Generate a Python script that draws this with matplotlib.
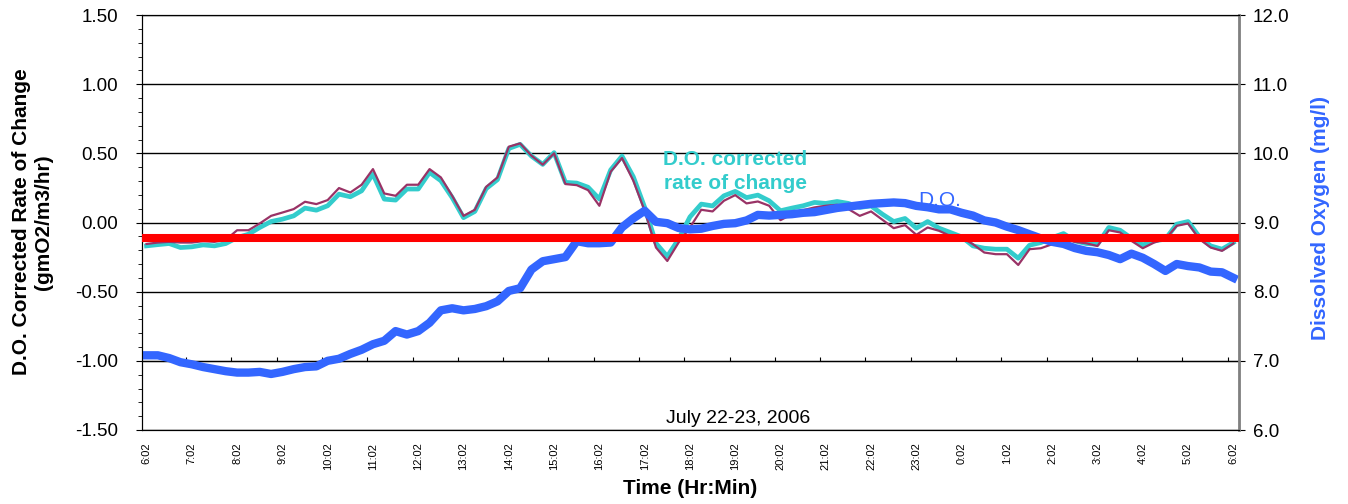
import numpy as np
import matplotlib
matplotlib.use('Agg')
import matplotlib.pyplot as plt
from matplotlib.ticker import MultipleLocator

plt.rcParams['font.family'] = ['Liberation Sans', 'DejaVu Sans']

# 15 minute readings, 6:02 on July 22 to 6:02 on July 23
rate = [-0.155, -0.145, -0.14, -0.145, -0.145, -0.135, -0.14, -0.125, -0.056, -0.056,
        -0.007, 0.048, 0.072, 0.097, 0.150, 0.133, 0.162, 0.249, 0.217, 0.273,
        0.386, 0.210, 0.193, 0.273, 0.273, 0.386, 0.326, 0.193, 0.048, 0.092,
        0.258, 0.326, 0.548, 0.572, 0.483, 0.418, 0.500, 0.278, 0.270, 0.234,
        0.121, 0.367, 0.466, 0.302, 0.085, -0.181, -0.278, -0.145, -0.036, 0.092,
        0.080, 0.157, 0.198, 0.138, 0.152, 0.121, 0.017, 0.060, 0.089, 0.109,
        0.121, 0.128, 0.097, 0.048, 0.080, 0.020, -0.041, -0.019, -0.089, -0.036,
        -0.060, -0.097, -0.109, -0.157, -0.217, -0.229, -0.229, -0.307, -0.193, -0.186,
        -0.157, -0.120, -0.140, -0.150, -0.170, -0.056, -0.072, -0.133, -0.186, -0.145,
        -0.120, -0.024, -0.007, -0.120, -0.181, -0.205, -0.152]

corrected = [-0.169, -0.160, -0.152, -0.181, -0.176, -0.162, -0.169, -0.152, -0.109, -0.085,
             -0.036, 0.007, 0.024, 0.048, 0.104, 0.089, 0.121, 0.205, 0.186, 0.229,
             0.350, 0.169, 0.162, 0.242, 0.242, 0.362, 0.302, 0.180, 0.035, 0.080,
             0.245, 0.310, 0.535, 0.565, 0.480, 0.420, 0.505, 0.290, 0.285, 0.255,
             0.170, 0.380, 0.480, 0.330, 0.110, -0.150, -0.245, -0.120, 0.040, 0.133,
             0.120, 0.193, 0.225, 0.180, 0.198, 0.157, 0.085, 0.104, 0.121, 0.145,
             0.138, 0.152, 0.138, 0.109, 0.120, 0.060, 0.007, 0.029, -0.041, 0.007,
             -0.041, -0.072, -0.104, -0.169, -0.186, -0.193, -0.193, -0.258, -0.164, -0.145,
             -0.109, -0.080, -0.133, -0.152, -0.157, -0.036, -0.056, -0.114, -0.162, -0.133,
             -0.120, -0.012, 0.007, -0.104, -0.169, -0.193, -0.145]

do_mgl = [7.08, 7.08, 7.04, 6.98, 6.95, 6.91, 6.88, 6.85, 6.83, 6.83,
          6.84, 6.81, 6.84, 6.88, 6.91, 6.92, 7.00, 7.03, 7.10, 7.16,
          7.24, 7.29, 7.43, 7.38, 7.43, 7.55, 7.73, 7.76, 7.73, 7.75,
          7.79, 7.86, 8.01, 8.05, 8.32, 8.44, 8.47, 8.50, 8.73, 8.70,
          8.70, 8.71, 8.93, 9.06, 9.17, 9.01, 8.99, 8.92, 8.90, 8.91,
          8.95, 8.98, 8.99, 9.03, 9.11, 9.10, 9.11, 9.12, 9.14, 9.15,
          9.18, 9.21, 9.23, 9.25, 9.27, 9.28, 9.29, 9.28, 9.24, 9.22,
          9.19, 9.19, 9.14, 9.10, 9.03, 9.00, 8.94, 8.89, 8.83, 8.77,
          8.72, 8.69, 8.63, 8.59, 8.57, 8.53, 8.47, 8.55, 8.49, 8.40,
          8.30, 8.40, 8.37, 8.35, 8.29, 8.28, 8.20]

red_level = 8.78  # constant reference line (right axis units)

hour_labels = ['6:02', '7:02', '8:02', '9:02', '10:02', '11:02', '12:02', '13:02',
               '14:02', '15:02', '16:02', '17:02', '18:02', '19:02', '20:02', '21:02',
               '22:02', '23:02', '0:02', '1:02', '2:02', '3:02', '4:02', '5:02', '6:02']

x = np.arange(len(rate))

fig = plt.figure(figsize=(13.48, 5.04), dpi=100)
ax = fig.add_axes([142/1348, 1-430/504, 1097/1348, 415/504])
ax2 = ax.twinx()

# rate of change lines (left axis)
ax.plot(x, corrected, color='#33CCCC', lw=3.4, zorder=2)
ax.plot(x, rate, color='#993366', lw=1.6, zorder=3)

ax.set_xlim(-0.4, 96.5)
ax.set_ylim(-1.5, 1.5)
ax.yaxis.set_major_locator(MultipleLocator(0.5))
ax.yaxis.set_minor_locator(MultipleLocator(0.1))
ax.set_yticklabels([f'{v:.2f}' for v in ax.get_yticks()])
ax.yaxis.grid(True, which='major', color='black', lw=1)
ax.set_axisbelow(True)
ax.tick_params(axis='y', which='major', direction='out', length=4, pad=13, labelsize=13.5)
ax.tick_params(axis='y', which='minor', direction='out', length=3)
ax.set_xticks(x[::4])
ax.set_xticklabels(hour_labels, rotation=90, fontsize=8)
ax.tick_params(axis='x', length=0, pad=9)

# secondary category axis crossing the right axis at 7.0 (= -1.00 on the left)
sec = ax.secondary_xaxis(1/6)
sec.set_xticks(np.arange(3.5, 96, 4))
sec.tick_params(axis='x', direction='in', length=3, labelbottom=False, labeltop=False)
sec.spines['bottom'].set_color('black')

# dissolved oxygen (right axis)
ax2.plot(x, do_mgl, color='#3366FF', lw=6, zorder=2)
ax2.axhline(red_level, color='#FF0000', lw=5.8, zorder=3)
ax2.set_ylim(6, 12)
ax2.yaxis.set_major_locator(MultipleLocator(1))
ax2.set_yticklabels([f'{v:.1f}' for v in ax2.get_yticks()])
ax2.tick_params(axis='y', direction='out', length=4, pad=6, labelsize=13.5)

for s in ['left', 'top', 'bottom']:
    ax.spines[s].set_color('black')
ax2.spines['right'].set_color('#808080')
ax2.spines['right'].set_linewidth(2)

ax.text(52, 0.37, 'D.O. corrected\nrate of change', color='#33CCCC', fontsize=15,
        fontweight='bold', ha='center', va='center', linespacing=1.3, zorder=4)
ax.text(68.2, 0.16, 'D.O.', color='#3366FF', fontsize=15, ha='left', va='center', zorder=1)
ax.text(52.3, -1.42, 'July 22-23, 2006', color='black', fontsize=14, ha='center', va='center')

fig.text(33/1348, 1-222/504, 'D.O. Corrected Rate of Change\n(gmO2/m3/hr)', rotation=90,
         ha='center', va='center', fontsize=15, fontweight='bold', multialignment='center')
fig.text(1320/1348, 1-218/504, 'Dissolved Oxygen (mg/l)', rotation=90, color='#3366FF',
         ha='center', va='center', fontsize=15, fontweight='bold')
fig.text(690/1348, 1-488/504, 'Time (Hr:Min)', ha='center', va='center',
         fontsize=15, fontweight='bold')

fig.savefig('out.png', dpi=100)
